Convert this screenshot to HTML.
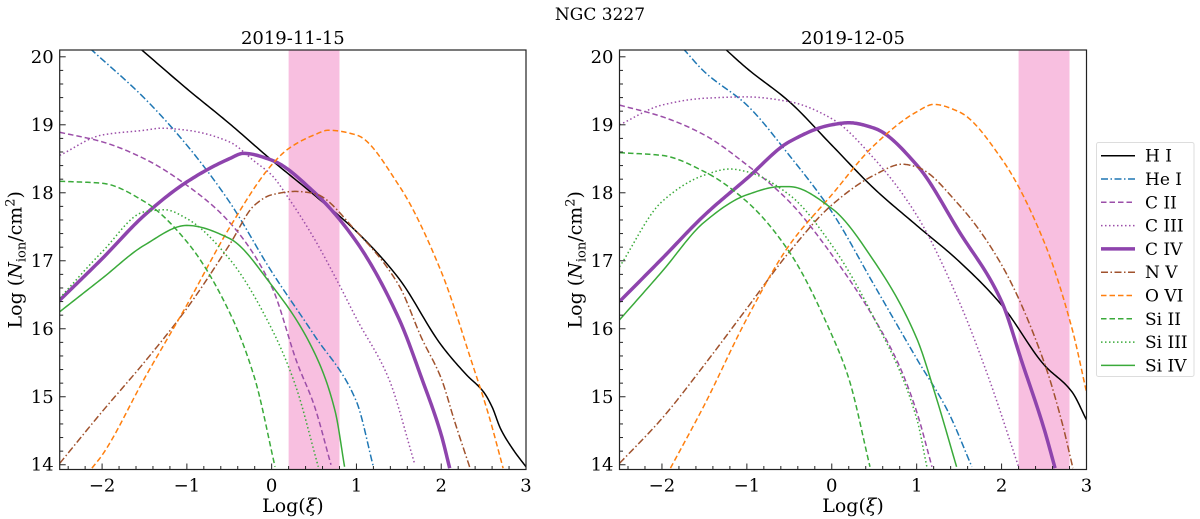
<!DOCTYPE html>
<html><head><meta charset="utf-8">
<style>
html,body{margin:0;padding:0;background:#fff;}
svg{display:block;font-family:"DejaVu Serif","Liberation Serif",serif;}
</style></head>
<body>
<svg id="fig" width="1200" height="519" viewBox="0 0 1200 519" xmlns="http://www.w3.org/2000/svg">
<text x="600" y="20" text-anchor="middle" font-size="17">NGC 3227</text>
<g id="legend"></g>
</svg>
<script>
const ions = ["H I","He I","C II","C III","C IV","N V","O VI","Si II","Si III","Si IV"];
const xTicks = [-2,-1,0,1,2,3];
const yTicks = [14,15,16,17,18,19,20];
const panelTitles = ["2019-11-15","2019-12-05"];
const bandA = [0.2,0.8];
const bandB = [2.2,2.8];

// Panel A (2019-11-15) curves: [logXi, logN]
const A_HI   = [[-1.55,20.12],[-1,19.53],[-0.5,19.02],[0,18.48],[0.5,17.97],[1,17.43],[1.5,16.74],[2,15.76],[2.3,15.32],[2.5,15.07],[2.6,14.85],[2.7,14.53],[2.85,14.22],[3,13.97]];
const A_HeI  = [[-2.14,20.12],[-1.5,19.39],[-1,18.7],[-0.5,17.87],[0,16.84],[0.5,15.91],[1,14.93],[1.2,13.97]];
const A_CII  = [[-2.5,18.89],[-2,18.75],[-1.5,18.5],[-1,18.11],[-0.5,17.57],[0,16.62],[0.3,15.5],[0.5,14.88],[0.7,14.0]];
const A_CIII = [[-2.5,18.55],[-2,18.85],[-1.5,18.92],[-1.3,18.95],[-1,18.92],[-0.5,18.75],[-0.2,18.46],[0,18.26],[0.2,17.92],[0.5,17.33],[0.8,16.64],[1,16.15],[1.38,15.27],[1.69,14.0]];
const A_CIV  = [[-2.5,16.42],[-2,17.03],[-1.5,17.67],[-1,18.16],[-0.5,18.5],[-0.33,18.58],[0,18.48],[0.5,18.01],[1,17.28],[1.5,16.15],[1.77,15.27],[2,14.44],[2.1,13.95]];
const A_NV   = [[-2.5,14.02],[-2,14.78],[-1.5,15.51],[-1,16.3],[-0.5,17.23],[-0.2,17.82],[0,17.97],[0.28,18.02],[0.5,17.99],[1,17.43],[1.5,16.64],[1.77,15.86],[2,15.27],[2.16,14.63],[2.34,13.95]];
const A_OVI  = [[-2.12,13.95],[-2,14.14],[-1.5,15.27],[-1,16.35],[-0.5,17.48],[0,18.41],[0.2,18.65],[0.5,18.85],[0.67,18.92],[1,18.85],[1.5,18.11],[2,16.84],[2.36,15.51],[2.56,14.73],[2.73,13.95]];
const A_SiII = [[-2.5,18.17],[-2,18.14],[-1.5,17.87],[-1,17.28],[-0.5,16.25],[-0.2,15.27],[0.04,13.97]];
const A_SiIII= [[-2.5,16.45],[-2,17.13],[-1.5,17.72],[-1.26,17.75],[-1,17.62],[-0.5,17.03],[0,16.0],[0.28,15.17],[0.55,13.97]];
const A_SiIV = [[-2.5,16.25],[-2,16.74],[-1.5,17.23],[-1,17.52],[-0.5,17.33],[0,16.64],[0.5,15.66],[0.75,14.78],[0.86,13.97]];

// Panel B (2019-12-05)
const B_HI   = [[-1.26,20.12],[-1,19.83],[-0.5,19.34],[0,18.7],[0.5,18.06],[1,17.52],[1.5,16.99],[2,16.35],[2.5,15.47],[2.83,15.07],[3,14.66]];
const B_HeI  = [[-1.75,20.12],[-1.5,19.78],[-1,19.29],[-0.5,18.55],[0,17.72],[0.5,16.64],[1,15.56],[1.37,14.78],[1.65,13.97]];
const B_CII  = [[-2.5,19.29],[-2,19.12],[-1.5,18.85],[-1,18.41],[-0.5,17.87],[0,17.09],[0.5,16.15],[0.79,15.47],[1,14.78],[1.18,13.97]];
const B_CIII = [[-2.5,19.0],[-2,19.29],[-1.5,19.39],[-1,19.41],[-0.5,19.34],[0,19.09],[0.5,18.5],[1,17.67],[1.5,16.4],[1.85,15.27],[2.2,13.97]];
const B_CIV  = [[-2.5,16.4],[-2,17.03],[-1.5,17.67],[-1,18.21],[-0.5,18.75],[0,19.0],[0.2,19.03],[0.5,18.95],[1,18.41],[1.5,17.43],[2,16.4],[2.24,15.51],[2.5,14.53],[2.63,13.95]];
const B_NV   = [[-2.5,14.02],[-2,14.68],[-1.5,15.47],[-1,16.3],[-0.5,17.13],[0,17.82],[0.5,18.26],[0.83,18.42],[1,18.38],[1.5,17.82],[2,16.94],[2.5,15.51],[2.71,14.63],[2.84,13.95]];
const B_OVI  = [[-1.9,13.95],[-1.5,14.88],[-1,16.15],[-0.5,17.23],[0,17.97],[0.5,18.7],[1,19.19],[1.2,19.3],[1.5,19.19],[2,18.5],[2.5,17.28],[2.83,16.0],[3,15.07]];
const B_SiII = [[-2.5,18.59],[-2,18.55],[-1.5,18.31],[-1,17.87],[-0.5,17.13],[0,15.91],[0.2,15.27],[0.45,13.97]];
const B_SiIII= [[-2.5,16.91],[-2,17.87],[-1.5,18.26],[-1.2,18.35],[-1,18.31],[-0.5,17.97],[0,17.23],[0.5,16.15],[1,14.68],[1.12,13.97]];
const B_SiIV = [[-2.5,16.13],[-2,16.84],[-1.5,17.57],[-1,17.97],[-0.6,18.09],[-0.5,18.09],[0,17.77],[0.5,16.99],[1,15.86],[1.22,15.03],[1.47,13.97]];

const panelA = [A_HI,A_HeI,A_CII,A_CIII,A_CIV,A_NV,A_OVI,A_SiII,A_SiIII,A_SiIV];
const panelB = [B_HI,B_HeI,B_CII,B_CIII,B_CIV,B_NV,B_OVI,B_SiII,B_SiIII,B_SiIV];

const styles = [
 {c:"#000000",w:1.5,d:""},
 {c:"#1f77b4",w:1.5,d:"7,2.5,1.5,2.5"},
 {c:"#9b4ea8",w:1.5,d:"5.5,3"},
 {c:"#9b4ea8",w:1.5,d:"1.5,2.5"},
 {c:"#8e44ad",w:3.5,d:""},
 {c:"#a0522d",w:1.5,d:"7,2.5,1.5,2.5"},
 {c:"#ff7f0e",w:1.5,d:"5.5,3"},
 {c:"#3aaa3a",w:1.5,d:"5.5,3"},
 {c:"#3aaa3a",w:1.5,d:"1.5,2.5"},
 {c:"#3aaa3a",w:1.5,d:""}
];

const NS="http://www.w3.org/2000/svg";
const fig=document.getElementById('fig');
const XMIN=-2.5,XMAX=3,YMIN=13.93,YMAX=20.1;
const TOP=50,BOT=469.5;

function mk(tag,attrs,parent){const e=document.createElementNS(NS,tag);for(const k in attrs)e.setAttribute(k,attrs[k]);(parent||fig).appendChild(e);return e;}

// monotone cubic (Fritsch-Carlson) sampled densely
function monoPath(pts,sx,sy){
  const n=pts.length, xs=pts.map(p=>p[0]), ys=pts.map(p=>p[1]);
  const h=[],dl=[];
  for(let i=0;i<n-1;i++){h.push(xs[i+1]-xs[i]);dl.push((ys[i+1]-ys[i])/h[i]);}
  const m=new Array(n);
  m[0]=dl[0];m[n-1]=dl[n-2];
  for(let i=1;i<n-1;i++){
    if(dl[i-1]*dl[i]<=0)m[i]=0;
    else{const w1=2*h[i]+h[i-1],w2=h[i]+2*h[i-1];m[i]=(w1+w2)/(w1/dl[i-1]+w2/dl[i]);}
  }
  let d="";
  for(let i=0;i<n-1;i++){
    const N=20;
    for(let k=(i===0?0:1);k<=N;k++){
      const t=k/N,hh=h[i];
      const h00=2*t*t*t-3*t*t+1,h10=t*t*t-2*t*t+t,h01=-2*t*t*t+3*t*t,h11=t*t*t-t*t;
      const x=xs[i]+t*hh;
      const y=h00*ys[i]+h10*hh*m[i]+h01*ys[i+1]+h11*hh*m[i+1];
      d+=(d?" L":"M")+sx(x).toFixed(2)+","+sy(y).toFixed(2);
    }
  }
  return d;
}

function drawPanel(idx,L,R,data,band,title){
  const sx=v=>L+(v-XMIN)/(XMAX-XMIN)*(R-L);
  const sy=v=>BOT-(v-YMIN)/(YMAX-YMIN)*(BOT-TOP);
  const g=mk('g',{});
  
  
  const cid='clip'+idx;
  const cp=mk('clipPath',{id:cid},g);
  mk('rect',{x:L,y:TOP,width:R-L,height:BOT-TOP},cp);
  const b=mk('rect',{x:sx(band[0]),y:TOP,width:sx(band[1])-sx(band[0]),height:BOT-TOP,fill:"#f8bfe0"},g);
  
  
  const lg=mk('g',{'clip-path':'url(#'+cid+')'},g);
  data.forEach((pts,i)=>{
    const s=styles[i];
    const path=mk('path',{d:monoPath(pts,sx,sy),fill:'none',stroke:s.c,'stroke-width':s.w,'stroke-dasharray':s.d,'stroke-linejoin':'round'},lg);
    
    
  });
  mk('rect',{x:L,y:TOP,width:R-L,height:BOT-TOP,fill:'none',stroke:'#222','stroke-width':1.2},g);
  for(let v=-2.4;v<=3.001;v+=0.2){
    const X=sx(v);const major=xTicks.some(t=>Math.abs(t-v)<1e-6);
    mk('line',{x1:X,x2:X,y1:BOT,y2:BOT-(major?6:3.5),stroke:'#222','stroke-width':1},g);
  }
  xTicks.forEach(t=>{
    const tx=mk('text',{x:sx(t),y:BOT+22,'text-anchor':'middle','font-size':18},g);
    tx.textContent=(t<0?"\u2212"+(-t):String(t));
    
    
  });
  for(let v=14;v<=20.001;v+=0.2){
    const Y=sy(v);const major=Math.abs(v-Math.round(v))<1e-6;
    mk('line',{x1:L,x2:L+(major?6:3.5),y1:Y,y2:Y,stroke:'#222','stroke-width':1},g);
  }
  yTicks.forEach(t=>{
    const ty=mk('text',{x:L-6,y:sy(t)+6,'text-anchor':'end','font-size':18},g);
    ty.textContent=String(t);
    
    
  });
  const tt=mk('text',{x:(L+R)/2,y:44,'text-anchor':'middle','font-size':18},g);
  tt.textContent=title;
  
  
  const xl=mk('text',{x:(L+R)/2,y:512,'text-anchor':'middle','font-size':19},g);
  xl.innerHTML='Log(<tspan font-style="italic">ξ</tspan>)';
  
  
  const yl=mk('text',{transform:'translate('+(L-38)+','+((TOP+BOT)/2)+') rotate(-90)','text-anchor':'middle','font-size':19},g);
  yl.innerHTML='Log (<tspan font-style="italic">N</tspan><tspan font-size="13" dy="4">ion</tspan><tspan dy="-4">/cm</tspan><tspan font-size="13" dy="-7">2</tspan><tspan dy="7">)</tspan>';
  
  
}
drawPanel(0,59.7,526,panelA,bandA,panelTitles[0]);
drawPanel(1,619.5,1086.5,panelB,bandB,panelTitles[1]);

const lgG=document.getElementById('legend');
mk('rect',{x:1096.5,y:142.5,width:97.5,height:234,fill:'#fff',stroke:'#ddd','stroke-width':1,rx:2},lgG);
ions.forEach((n,i)=>{
  const y=155.7+i*23.3;const s=styles[i];
  const ln=mk('line',{x1:1101,x2:1135,y1:y,y2:y,stroke:s.c,'stroke-width':s.w,'stroke-dasharray':s.d},lgG);
  
  
  const t=mk('text',{x:1145,y:y+6,'font-size':17},lgG);
  t.textContent=n;
  
  
});
</script>
</body></html>
